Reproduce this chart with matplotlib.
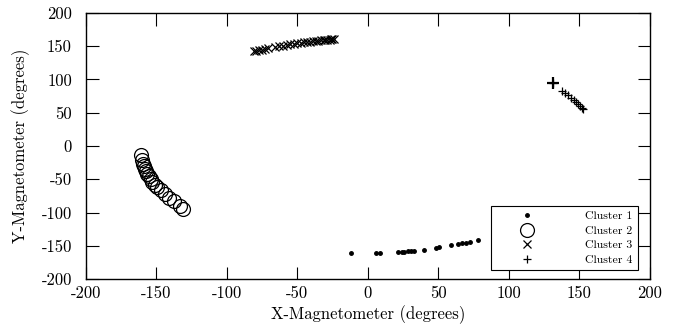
import matplotlib
matplotlib.use("Agg")
import matplotlib.pyplot as plt

plt.rcParams["font.family"] = "serif"
plt.rcParams["font.serif"] = ["cmr10", "DejaVu Serif"]
plt.rcParams["axes.unicode_minus"] = False
plt.rcParams["axes.formatter.use_mathtext"] = False

# cluster 1 (dots)
c1_x = [-12, 6, 9, 21.5, 24, 26, 28.5, 31, 33, 40, 48.5, 50.5, 59, 64, 67, 70, 72.5, 78]
c1_y = [-160.5, -160.5, -160.5, -159.5, -159.5, -159, -158.5, -158.5, -158, -156.5,
        -153, -152.5, -149.5, -147.5, -146.5, -145.5, -144.5, -141.5]

# cluster 2 (circles)
c2_x = [-161, -160, -159.3, -158.6, -158.2, -157.4, -156.5, -155.3, -154.1, -152.7,
        -151.1, -149.4, -147, -144, -141, -137.6, -133.3, -131]
c2_y = [-13, -20.5, -26.5, -30.5, -34.5, -38, -41.5, -45.5, -49.5, -53.5,
        -58, -62, -66.5, -71.5, -78, -83, -90.5, -95]

# cluster 3 (crosses)
c3_x = [-81, -79, -77, -75, -73, -71, -66, -63, -60, -57, -55, -52, -50, -47, -45,
        -43, -41, -39, -37, -35, -33, -31, -30, -29, -27, -26, -25, -24]
c3_y = [142, 143, 144, 145, 146, 147, 148.5, 150, 151, 152, 153, 154, 154.5, 155.5, 156,
        156.5, 157, 157.5, 158, 158.5, 159, 159.5, 159.5, 160, 160, 160.5, 160.5, 161]

# cluster 4 (plus)
c4_x = [131.5, 138, 140, 142, 144, 146, 147.5, 149, 150.5, 152, 153]
c4_y = [95, 82, 79, 76, 72.5, 69, 66, 63, 60, 57, 55]

fig = plt.figure(figsize=(6.81, 3.31), dpi=100)
ax = fig.add_axes([0.126, 0.157, 0.828, 0.804])

ax.plot(c1_x, c1_y, "k.", markersize=5, linestyle="none", label="Cluster 1")
ax.plot(c2_x, c2_y, "o", markersize=10, markerfacecolor="none", markeredgecolor="k",
        markeredgewidth=0.9, linestyle="none", label="Cluster 2")
ax.plot(c3_x, c3_y, "x", color="k", markersize=5.5, markeredgewidth=0.9,
        linestyle="none", label="Cluster 3")
ax.plot(c4_x, c4_y, "+", color="k", markersize=6, markeredgewidth=0.9,
        linestyle="none", label="Cluster 4")
# the first reading of cluster 4 is drawn larger
ax.plot(c4_x[:1], c4_y[:1], "+", color="k", markersize=9, markeredgewidth=1.6,
        linestyle="none")

ax.set_xlim(-200, 200)
ax.set_ylim(-200, 200)
ax.set_xticks(range(-200, 201, 50))
ax.set_yticks(range(-200, 201, 50))
ax.tick_params(direction="in", length=9, width=0.8, top=True, right=True,
               labelsize=12)
ax.tick_params(axis="x", pad=5)
ax.tick_params(axis="y", pad=10)
for s in ax.spines.values():
    s.set_linewidth(1.0)

ax.set_xlabel("X-Magnetometer (degrees)", fontsize=12, labelpad=3)
ax.set_ylabel("Y-Magnetometer (degrees)", fontsize=12, labelpad=8)

leg = ax.legend(loc="lower right", bbox_to_anchor=(0.979, 0.034), borderaxespad=0,
                fontsize=8.5, numpoints=1, handlelength=5.2, borderpad=0.45,
                handletextpad=2.3, labelspacing=0.36,
                fancybox=False, framealpha=1, edgecolor="k")
leg.get_frame().set_linewidth(0.8)

fig.savefig("out.png", dpi=100)
